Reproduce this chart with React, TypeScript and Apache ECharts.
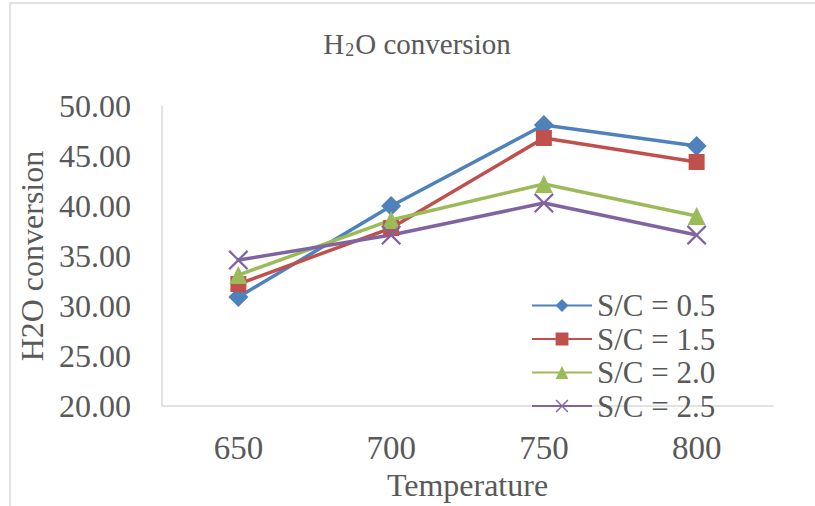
import React, { useEffect, useRef } from "react";
import * as echarts from "echarts";

const categories = ["650", "700", "750", "800"];
const seriesNames = ["S/C = 0.5", "S/C = 1.5", "S/C = 2.0", "S/C = 2.5"];
const sc05 = [30.9, 40.0, 48.1, 46.0];
const sc15 = [32.2, 37.8, 46.8, 44.4];
const sc20 = [33.1, 38.6, 42.2, 39.0];
const sc25 = [34.6, 37.1, 40.3, 37.1];
const yTicks = { min: 20, max: 50, interval: 5 };

const colors = ["#4F81BD", "#C0504D", "#9BBB59", "#8064A2"];
const symbols = [
  "diamond",
  "rect",
  "triangle",
  "path://M0,0.8 L0.8,0 L5,4.2 L9.2,0 L10,0.8 L5.8,5 L10,9.2 L9.2,10 L5,5.8 L0.8,10 L0,9.2 L4.2,5 Z",
];
const symbolSizes = [20, 16, 18, 20];

const FONT = "'Liberation Serif', 'Times New Roman', serif";
const GRAY = "#595959";

export default function App() {
  const ref = useRef<HTMLDivElement>(null);
  useEffect(() => {
    if (!ref.current) return;
    const chart = echarts.init(ref.current, undefined, { renderer: "svg" });
    const data = [sc05, sc15, sc20, sc25];
    chart.setOption({
      animation: false,
      backgroundColor: "#FFFFFF",
      title: {
        text: "{a|H}{b|2}{a|O conversion}",
        left: 412,
        textAlign: "center",
        top: 24,
        textStyle: {
          fontWeight: "normal",
          rich: {
            a: { fontFamily: FONT, fontSize: 29, color: GRAY, fontWeight: "normal" },
            b: { fontFamily: FONT, fontSize: 18, color: GRAY, fontWeight: "normal", padding: [12, 1, 0, 1] },
          },
        },
      },
      graphic: [
        {
          type: "rect",
          shape: { x: 10, y: 3, width: 900, height: 700 },
          style: { fill: "none", stroke: "#D9D9D9", lineWidth: 1.5 },
          silent: true,
        },
      ],
      legend: {
        orient: "vertical",
        left: 526,
        top: 285,
        itemWidth: 60,
        itemHeight: 16,
        itemGap: 2.5,
        textStyle: { fontFamily: FONT, fontSize: 31, color: GRAY, lineHeight: 31 },
        data: seriesNames,
      },
      grid: { left: 162, top: 106, right: 42, bottom: 91 },
      xAxis: {
        type: "category",
        data: categories,
        boundaryGap: true,
        name: "Temperature",
        nameLocation: "middle",
        nameGap: 56,
        nameTextStyle: { fontFamily: FONT, fontSize: 32, color: GRAY },
        axisLine: { lineStyle: { color: "#D9D9D9", width: 1.5 } },
        axisTick: { show: false },
        axisLabel: { fontFamily: FONT, fontSize: 33, color: GRAY, margin: 25 },
      },
      yAxis: {
        type: "value",
        min: yTicks.min,
        max: yTicks.max,
        interval: yTicks.interval,
        name: "H2O conversion",
        nameLocation: "middle",
        nameGap: 113,
        nameTextStyle: { fontFamily: FONT, fontSize: 32, color: GRAY },
        axisLine: { show: true, lineStyle: { color: "#D9D9D9", width: 1.5 } },
        axisTick: { show: false },
        splitLine: { show: false },
        axisLabel: {
          fontFamily: FONT,
          fontSize: 32,
          color: GRAY,
          margin: 31,
          formatter: (v: number) => v.toFixed(2),
        },
      },
      series: data.map((d, i) => ({
        name: seriesNames[i],
        type: "line",
        data: d,
        symbol: symbols[i],
        symbolSize: symbolSizes[i],
        showAllSymbol: true,
        lineStyle: { color: colors[i], width: 3.5 },
        itemStyle: { color: colors[i] },
      })),
    });
    return () => chart.dispose();
  }, []);
  return (
    <div
      ref={ref}
      style={{ position: "fixed", left: 0, top: 0, width: 815, height: 506 }}
    />
  );
}
